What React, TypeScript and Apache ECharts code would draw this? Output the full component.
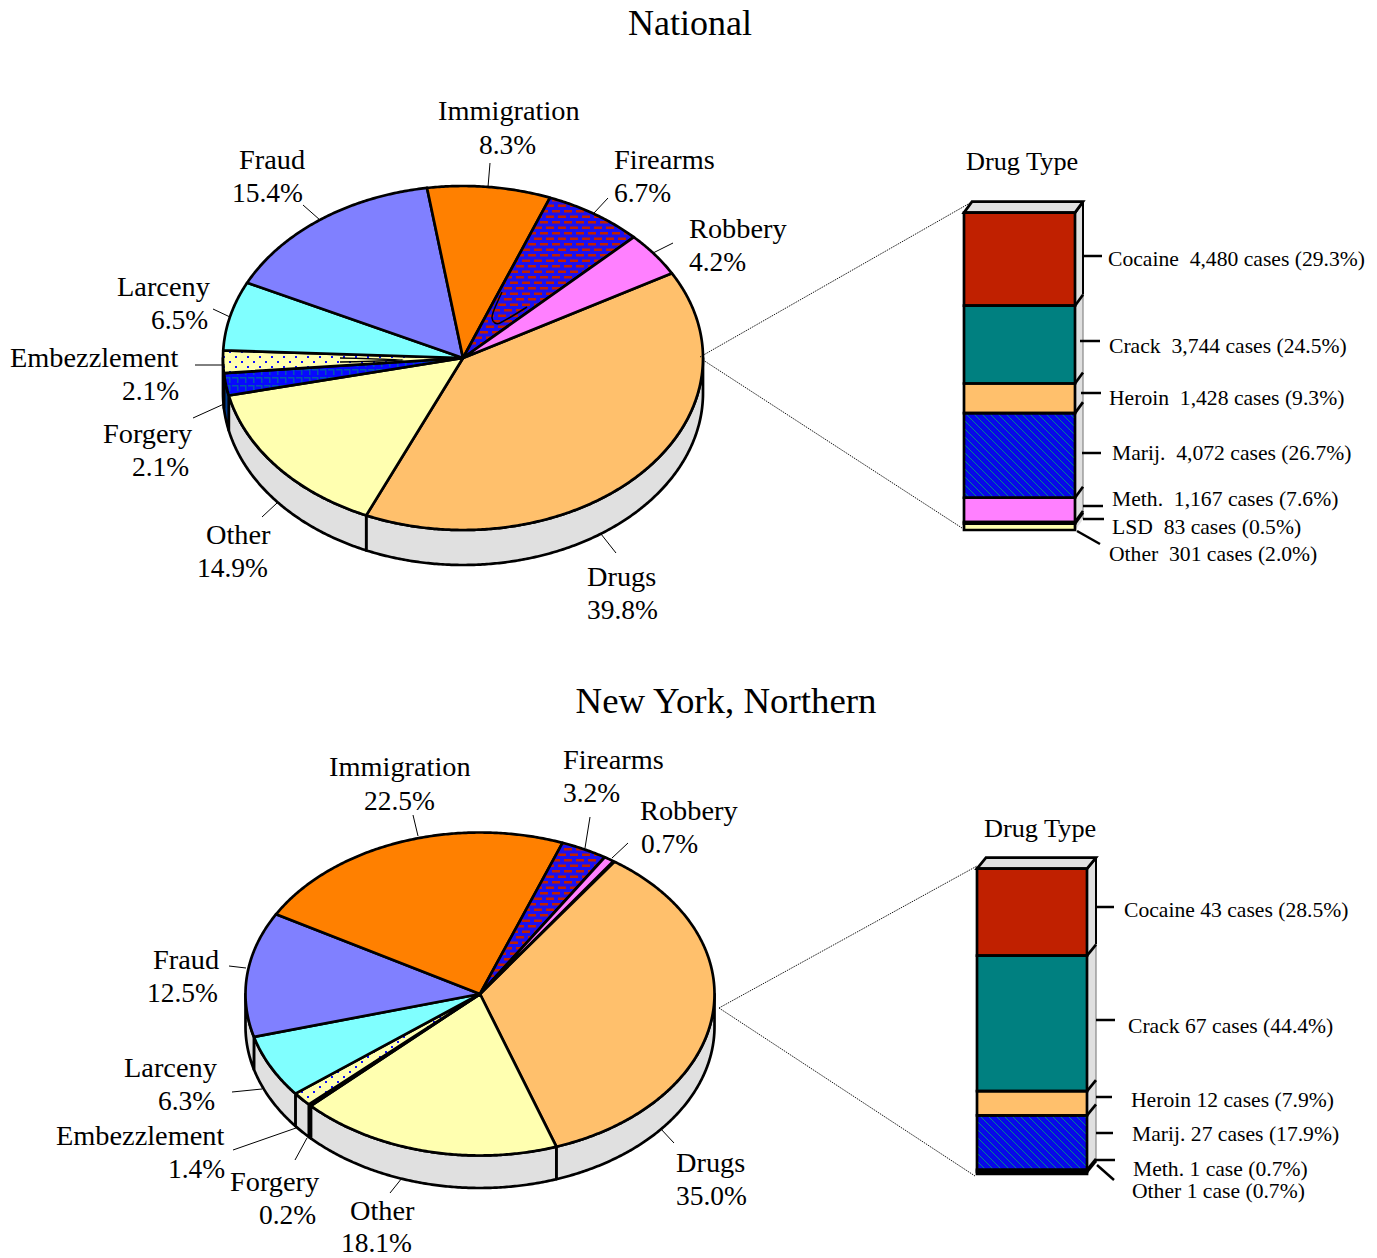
import React, { useEffect, useRef } from "react";
import * as echarts from "echarts";

const sliceNames = ["Drugs", "Other", "Forgery", "Embezzlement", "Larceny", "Fraud", "Immigration", "Firearms", "Robbery"];
const nationalShares = [39.8, 14.9, 2.1, 2.1, 6.5, 15.4, 8.3, 6.7, 4.2];
const northernShares = [35.0, 18.1, 0.2, 1.4, 6.3, 12.5, 22.5, 3.2, 0.7];

const nationalDrugNames = ["Cocaine", "Crack", "Heroin", "Marij.", "Meth.", "LSD", "Other"];
const nationalDrugCases = [4480, 3744, 1428, 4072, 1167, 83, 301];
const nationalDrugLabels = ["Cocaine  4,480 cases (29.3%)", "Crack  3,744 cases (24.5%)", "Heroin  1,428 cases (9.3%)", "Marij.  4,072 cases (26.7%)", "Meth.  1,167 cases (7.6%)", "LSD  83 cases (0.5%)", "Other  301 cases (2.0%)"];
const northernDrugNames = ["Cocaine", "Crack", "Heroin", "Marij.", "Meth.", "Other"];
const northernDrugCases = [43, 67, 12, 27, 1, 1];
const northernDrugLabels = ["Cocaine 43 cases (28.5%)", "Crack 67 cases (44.4%)", "Heroin 12 cases (7.9%)", "Marij. 27 cases (17.9%)", "Meth. 1 case (0.7%)", "Other 1 case (0.7%)"];

const FONT = '"Liberation Serif", "Times New Roman", serif';
const GREY = "#e0e0e0";
const RED = "#c02000";
const EDGE = 2.7;

function tile(w: number, h: number, draw: (c: CanvasRenderingContext2D) => void) {
  const cv = document.createElement("canvas");
  cv.width = w;
  cv.height = h;
  draw(cv.getContext("2d")!);
  return { image: cv, repeat: "repeat", imageWidth: w, imageHeight: h } as any;
}

function makePatterns() {
  const brick = tile(12, 11, (c) => {
    c.fillStyle = "#1c10f0";
    c.fillRect(0, 0, 12, 11);
    c.fillStyle = RED;
    c.fillRect(0, 1, 8, 2.5);
    c.fillRect(6, 6.5, 8, 2.5);
    c.fillRect(-6, 6.5, 8, 2.5);
  });
  const dots = tile(12, 10, (c) => {
    c.fillStyle = "#ffffb0";
    c.fillRect(0, 0, 12, 10);
    c.fillStyle = "#1010ff";
    c.fillRect(1, 1, 2, 2);
    c.fillRect(7, 6, 2, 2);
  });
  const grid = tile(8, 8, (c) => {
    c.fillStyle = "#0808ff";
    c.fillRect(0, 0, 8, 8);
    c.fillStyle = "#0058b0";
    c.fillRect(0, 1, 6, 1.5);
    c.fillRect(5, 1, 1.5, 6);
  });
  const hatch = tile(8, 8, (c) => {
    c.fillStyle = "#0808e8";
    c.fillRect(0, 0, 8, 8);
    c.strokeStyle = "#008888";
    c.lineWidth = 1;
    c.beginPath();
    c.moveTo(-1, -1);
    c.lineTo(9, 9);
    c.moveTo(-1, 7);
    c.lineTo(1, 9);
    c.moveTo(7, -1);
    c.lineTo(9, 1);
    c.stroke();
  });
  return { brick, dots, grid, hatch };
}

type Pie = { name: string; shares: number[]; cx: number; cy: number; rx: number; ry: number; depth: number; start: number };

const nationalPie: Pie = { name: "National", shares: nationalShares, cx: 463, cy: 358, rx: 240, ry: 172, depth: 35, start: -29.5 };
const northernPie: Pie = { name: "New York, Northern", shares: northernShares, cx: 480, cy: 994, rx: 234.5, ry: 161.5, depth: 32.5, start: -55 };

function pieSeries(p: Pie, fills: any[], wallFills: (string | any)[]) {
  const pt = (deg: number, dy = 0) => {
    const a = (deg * Math.PI) / 180;
    return [p.cx + p.rx * Math.cos(a), p.cy + dy + p.ry * Math.sin(a)];
  };
  const arc = (from: number, to: number, dy = 0) => {
    const n = Math.max(2, Math.ceil(Math.abs(to - from) * 2));
    const out: number[][] = [];
    for (let i = 0; i <= n; i++) out.push(pt(from + ((to - from) * i) / n, dy));
    return out;
  };
  return {
    type: "custom",
    name: p.name,
    coordinateSystem: "none",
    silent: true,
    data: p.shares.map((v, i) => ({ name: sliceNames[i], value: [v] })),
    renderItem: (params: any, api: any) => {
      const i = params.dataIndex;
      let before = 0;
      for (let k = 0; k < i; k++) before += p.shares[k];
      const a0 = p.start + (before * 360) / 100;
      const a1 = a0 + (api.value(0) * 360) / 100;
      const children: any[] = [];
      const w0 = Math.max(a0, 0);
      const w1 = Math.min(a1, 180);
      if (w1 > w0) {
        children.push({
          type: "polygon",
          shape: { points: [...arc(w0, w1), ...arc(w1, w0, p.depth)] },
          style: { fill: wallFills[i], stroke: "#000", lineWidth: EDGE, lineJoin: "round" },
        });
      }
      children.push({
        type: "polygon",
        shape: { points: [[p.cx, p.cy], ...arc(a0, a1)] },
        style: { fill: fills[i], stroke: "#000", lineWidth: EDGE, lineJoin: "round" },
      });
      return { type: "group", children };
    },
  };
}

function stackSeries(names: string[], cases: number[], colors: any[], gridIndex: number, dx: number, dy: number) {
  const starts: number[] = [];
  cases.reduce((s, v, i) => ((starts[i] = s), s + v), 0);
  const spans = cases.map((v, i) => [0, starts[i], starts[i] + v]);
  const bars = names.map((n, i) => ({
    type: "bar",
    name: n,
    stack: "drug" + gridIndex,
    xAxisIndex: gridIndex,
    yAxisIndex: gridIndex,
    barWidth: "100%",
    silent: true,
    z: 3,
    data: [cases[i]],
    itemStyle: { color: colors[i], borderWidth: 0 },
  }));
  const geometry = (api: any) => {
    const [xc, y0] = api.coord([0, api.value(1)]);
    const [, y1] = api.coord([0, api.value(2)]);
    const half = api.size([1, 0])[0] / 2;
    return { l: xc - half, r: xc + half, y0, y1 };
  };
  const side = {
    type: "custom",
    xAxisIndex: gridIndex,
    yAxisIndex: gridIndex,
    silent: true,
    z: 2,
    clip: false,
    encode: { x: 0, y: [1, 2] },
    data: spans,
    renderItem: (params: any, api: any) => {
      const { l, r, y0, y1 } = geometry(api);
      const first = params.dataIndex === 0;
      const children: any[] = [
        {
          type: "polygon",
          shape: { points: [[r, y0], [r + dx, y0 - dy], [r + dx, y1 - dy], [r, y1]] },
          style: { fill: GREY, stroke: GREY, lineWidth: 0.5 },
        },
        {
          type: "line",
          shape: { x1: r + dx, y1: y0 - dy, x2: r + dx, y2: y1 - dy },
          style: first ? { stroke: "#000", lineWidth: 2 } : { stroke: "#777", lineWidth: 1 },
        },
        { type: "line", shape: { x1: r, y1: y0, x2: r + dx, y2: y0 - dy }, style: { stroke: "#000", lineWidth: EDGE } },
      ];
      if (first) {
        children.push({
          type: "polygon",
          shape: { points: [[l, y0], [l + dx, y0 - dy], [r + dx, y0 - dy], [r, y0]] },
          style: { fill: GREY, stroke: "#000", lineWidth: EDGE },
        });
      }
      return { type: "group", children };
    },
  };
  const outline = {
    type: "custom",
    xAxisIndex: gridIndex,
    yAxisIndex: gridIndex,
    silent: true,
    z: 4,
    clip: false,
    encode: { x: 0, y: [1, 2] },
    data: spans,
    renderItem: (_: any, api: any) => {
      const { l, r, y0, y1 } = geometry(api);
      return { type: "rect", shape: { x: l, y: y0, width: r - l, height: y1 - y0 }, style: { fill: "none", stroke: "#000", lineWidth: EDGE } };
    },
  };
  return [side, ...bars, outline];
}

// annotation layout: [text, x, y], separate from the data
const pieLabelLayout: [string, number, number][] = [
  ["Immigration", 438, 110.5], ["8.3%", 479, 144], ["Firearms", 614, 159.5], ["6.7%", 614, 192.5],
  ["Robbery", 689, 228.5], ["4.2%", 689, 261.5], ["Larceny", 117, 286.5], ["6.5%", 151, 319.5],
  ["Fraud", 239, 159.5], ["15.4%", 232, 192.5], ["Embezzlement", 10, 357.5], ["2.1%", 122, 390.5],
  ["Forgery", 103, 433.5], ["2.1%", 132, 466.5], ["Other", 206, 534.5], ["14.9%", 197, 567.5],
  ["Drugs", 587, 576.5], ["39.8%", 587, 609.5],
  ["Immigration", 329, 766.5], ["22.5%", 364, 800.5], ["Firearms", 563, 759.5], ["3.2%", 563, 792.5],
  ["Robbery", 640, 810.5], ["0.7%", 641, 843.5], ["Fraud", 153, 959.5], ["12.5%", 147, 992.5],
  ["Larceny", 124, 1067.5], ["6.3%", 158, 1100.5], ["Embezzlement", 56, 1135.5], ["1.4%", 168, 1168.5],
  ["Forgery", 230, 1181.5], ["0.2%", 259, 1214.5], ["Other", 350, 1210.5], ["18.1%", 341, 1242.5],
  ["Drugs", 676, 1162.5], ["35.0%", 676, 1195.5],
];
const pieLeaders: number[][] = [
  [490, 163, 488, 187], [608, 198, 594, 213], [673, 243, 653, 253], [303, 205, 320, 220], [213, 309, 230, 317],
  [195, 365, 225, 365], [193, 418, 224, 404], [262, 517, 277, 503], [616, 553, 601, 534],
  [413, 815, 418, 836], [590, 817, 585, 848], [628, 843, 612, 858], [229, 966, 246, 968], [232, 1092, 262, 1089],
  [233, 1150, 296, 1128], [295, 1160, 307, 1138], [390, 1193, 402, 1178], [674, 1143, 660, 1128],
];
const stackLeaders: number[][] = [
  [1083, 256, 1102, 256], [1080, 341, 1100, 341], [1081, 393, 1101, 393], [1082, 453, 1101, 453],
  [1083, 506, 1103, 506], [1083, 519, 1104, 519], [1077, 531, 1100, 544],
  [1096, 907, 1114, 907], [1096, 1020, 1115, 1020], [1096, 1097, 1112, 1097], [1096, 1133, 1113, 1133],
  [1096, 1160, 1115, 1160], [1097, 1165, 1114, 1180],
];
const stackLabelLayout: [number, number][] = [
  [1108, 259], [1109, 346], [1109, 398], [1112, 453], [1112, 499], [1112, 527], [1109, 554],
  [1124, 910], [1128, 1026], [1131, 1100], [1132, 1134], [1133, 1169], [1132, 1191],
];
const connectors: number[][] = [
  [700, 357, 970, 203], [703, 360, 962, 528], [719, 1008, 977, 866], [719, 1008, 975, 1176],
];
// stray outline traces visible inside the National pie's narrow slices
const strayTraces: number[][][] = [
  [[502, 292], [494, 310], [492, 318], [495, 323], [500, 323], [527, 307]],
  [[340, 358], [403, 360], [340, 362]],
];

export default function App() {
  const ref = useRef<HTMLDivElement>(null);
  useEffect(() => {
    document.body.style.margin = "0";
    const chart = echarts.init(ref.current!, undefined, { renderer: "svg" });
    const pat = makePatterns();
    const sliceFills = ["#ffc06c", "#ffffb0", pat.grid, pat.dots, "#80ffff", "#8080ff", "#ff8000", pat.brick, "#ff80ff"];
    const wallFills = [GREY, GREY, "#003c90", GREY, GREY, GREY, GREY, GREY, GREY];
    const natColors = [RED, "#008080", "#ffc06c", pat.hatch, "#ff80ff", RED, "#ffffb0"];
    const norColors = [RED, "#008080", "#ffc06c", pat.hatch, "#ff80ff", "#ffffb0"];

    const text = (t: string, x: number, y: number, size: number, align = "left", scaleX = 1) => ({
      type: "text",
      x,
      y,
      scaleX,
      silent: true,
      z: 10,
      style: { text: t, x: 0, y: 0, font: `${size}px ${FONT}`, fill: "#000", textAlign: align, textVerticalAlign: "middle" },
    });
    const line = (s: number[], lineWidth: number, extra: any = {}) => ({
      type: "line",
      silent: true,
      z: 10,
      shape: { x1: s[0], y1: s[1], x2: s[2], y2: s[3] },
      style: { stroke: "#000", lineWidth, ...extra },
    });
    const stackTexts = [...nationalDrugLabels, ...northernDrugLabels];

    chart.setOption({
      animation: false,
      backgroundColor: "#fff",
      grid: [
        { left: 964, top: 212.6, width: 111, height: 317.4, containLabel: false },
        { left: 977, top: 868.6, width: 110, height: 305.4, containLabel: false },
      ],
      xAxis: [0, 1].map((g) => ({ type: "category", gridIndex: g, show: false, data: ["Drug Type"] })),
      yAxis: [
        { type: "value", gridIndex: 0, show: false, inverse: true, min: 0, max: nationalDrugCases.reduce((a, b) => a + b, 0) },
        { type: "value", gridIndex: 1, show: false, inverse: true, min: 0, max: northernDrugCases.reduce((a, b) => a + b, 0) },
      ],
      series: [
        pieSeries(nationalPie, sliceFills, wallFills),
        pieSeries(northernPie, sliceFills, wallFills),
        ...stackSeries(nationalDrugNames, nationalDrugCases, natColors, 0, 8, 11),
        ...stackSeries(northernDrugNames, northernDrugCases, norColors, 1, 9, 11),
      ],
      graphic: {
        elements: [
          text("National", 690, 23, 36, "center"),
          text("New York, Northern", 726, 701, 36, "center", 1.024),
          text("Drug Type", 966, 161.5, 26, "left", 1.01),
          text("Drug Type", 984, 828.5, 26, "left", 1.01),
          ...pieLabelLayout.map(([t, x, y]) => text(t, x, y, 28.2, "left", t.endsWith("%") ? 0.975 : 1.005)),
          ...stackLabelLayout.map(([x, y], i) => text(stackTexts[i], x, y, 20.5, "left", 1.055)),
          ...pieLeaders.map((s) => line(s, 1)),
          ...stackLeaders.map((s) => line(s, 2.5)),
          ...connectors.map((s) => line(s, 0.9, { lineDash: [1.5, 1] })),
          ...strayTraces.map((points) => ({
            type: "polyline",
            silent: true,
            z: 9,
            shape: { points, smooth: 0.3 },
            style: { stroke: "#000", lineWidth: 1.5, fill: "none" },
          })),
        ],
      },
    });
    return () => chart.dispose();
  }, []);
  return <div ref={ref} style={{ width: 1377, height: 1258 }} />;
}
